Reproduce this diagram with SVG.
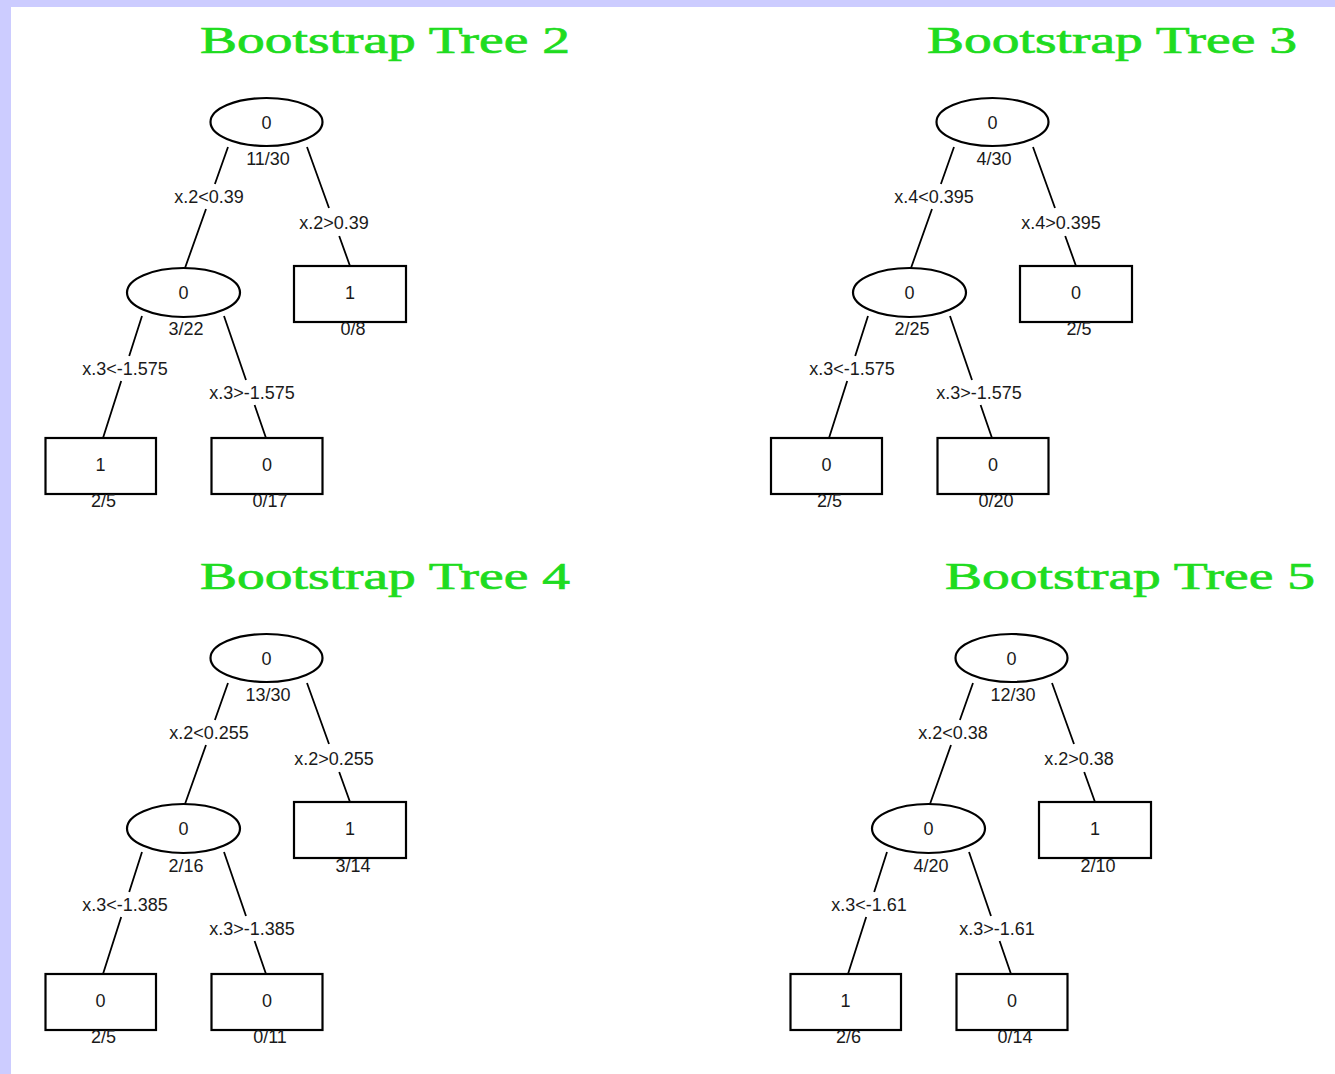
<svg xmlns="http://www.w3.org/2000/svg" width="1335" height="1074" viewBox="0 0 1335 1074">
<style>
.title{font-family:"Liberation Serif","DejaVu Serif",serif;font-size:37px;fill:#1fdc1f;stroke:#1fdc1f;stroke-width:0.7;}
.t{font-family:"Liberation Sans",Arial,sans-serif;font-size:18px;fill:#1a1a1a;text-anchor:middle;}
.shape{fill:#fff;stroke:#000;stroke-width:2.2;}
.edge{stroke:#000;stroke-width:1.8;fill:none;}
</style>
<rect x="0" y="0" width="1335" height="1074" fill="#ccccff"/>
<rect x="11" y="7" width="1324" height="1067" fill="#fff"/>
<g id="titles">
<text class="title" x="200" y="53" textLength="370" lengthAdjust="spacingAndGlyphs">Bootstrap Tree 2</text>
<text class="title" x="927" y="53" textLength="370" lengthAdjust="spacingAndGlyphs">Bootstrap Tree 3</text>
<text class="title" x="200" y="589" textLength="370" lengthAdjust="spacingAndGlyphs">Bootstrap Tree 4</text>
<text class="title" x="945" y="589" textLength="370" lengthAdjust="spacingAndGlyphs">Bootstrap Tree 5</text>
</g>
<defs>
<g id="edges">
<path class="edge" d="M228,147 L214.9,184 M206,209 L185,268"/>
<path class="edge" d="M307,147 L329,208 M339.2,236 L350,266"/>
<path class="edge" d="M142,316 L129.2,356 M121.2,381 L103,438"/>
<path class="edge" d="M224,316 L246,380 M254.6,405 L266,438"/>
</g>
</defs>
<g id="connectors">
<g id="edges-tree2"><use href="#edges"/>
<text class="t" x="209" y="203">x.2&lt;0.39</text><text class="t" x="334" y="229">x.2&gt;0.39</text>
<text class="t" x="125" y="375">x.3&lt;-1.575</text><text class="t" x="252" y="399">x.3&gt;-1.575</text></g>
<g id="edges-tree3" transform="translate(726,0)"><use href="#edges"/>
<text class="t" x="208" y="203">x.4&lt;0.395</text><text class="t" x="335" y="229">x.4&gt;0.395</text>
<text class="t" x="126" y="375">x.3&lt;-1.575</text><text class="t" x="253" y="399">x.3&gt;-1.575</text></g>
<g id="edges-tree4" transform="translate(0,536)"><use href="#edges"/>
<text class="t" x="209" y="203">x.2&lt;0.255</text><text class="t" x="334" y="229">x.2&gt;0.255</text>
<text class="t" x="125" y="375">x.3&lt;-1.385</text><text class="t" x="252" y="399">x.3&gt;-1.385</text></g>
<g id="edges-tree5" transform="translate(745,536)"><use href="#edges"/>
<text class="t" x="208" y="203">x.2&lt;0.38</text><text class="t" x="334" y="229">x.2&gt;0.38</text>
<text class="t" x="124" y="375">x.3&lt;-1.61</text><text class="t" x="252" y="399">x.3&gt;-1.61</text></g>
</g>
<g id="tree2">
<g id="t2-root"><ellipse class="shape" cx="266.5" cy="122" rx="56" ry="24"/><text class="t" x="266.5" y="128.5">0</text><text class="t" x="268" y="165">11/30</text></g>
<g id="t2-n2"><ellipse class="shape" cx="183.5" cy="292.5" rx="56.5" ry="24.5"/><text class="t" x="183.5" y="299">0</text><text class="t" x="186" y="335">3/22</text></g>
<g id="t2-n3"><rect class="shape" x="294" y="266" width="112" height="56"/><text class="t" x="350" y="299">1</text><text class="t" x="353" y="335">0/8</text></g>
<g id="t2-n4"><rect class="shape" x="45.5" y="438" width="110.5" height="56"/><text class="t" x="100.5" y="471">1</text><text class="t" x="103.5" y="507">2/5</text></g>
<g id="t2-n5"><rect class="shape" x="211.5" y="438" width="111" height="56"/><text class="t" x="267" y="471">0</text><text class="t" x="270" y="507">0/17</text></g>
</g>
<g id="tree3" transform="translate(726,0)">
<g id="t3-root"><ellipse class="shape" cx="266.5" cy="122" rx="56" ry="24"/><text class="t" x="266.5" y="128.5">0</text><text class="t" x="268" y="165">4/30</text></g>
<g id="t3-n2"><ellipse class="shape" cx="183.5" cy="292.5" rx="56.5" ry="24.5"/><text class="t" x="183.5" y="299">0</text><text class="t" x="186" y="335">2/25</text></g>
<g id="t3-n3"><rect class="shape" x="294" y="266" width="112" height="56"/><text class="t" x="350" y="299">0</text><text class="t" x="353" y="335">2/5</text></g>
<g id="t3-n4"><rect class="shape" x="45" y="438" width="111" height="56"/><text class="t" x="100.5" y="471">0</text><text class="t" x="103.5" y="507">2/5</text></g>
<g id="t3-n5"><rect class="shape" x="211.5" y="438" width="111" height="56"/><text class="t" x="267" y="471">0</text><text class="t" x="270" y="507">0/20</text></g>
</g>
<g id="tree4" transform="translate(0,536)">
<g id="t4-root"><ellipse class="shape" cx="266.5" cy="122" rx="56" ry="24"/><text class="t" x="266.5" y="128.5">0</text><text class="t" x="268" y="165">13/30</text></g>
<g id="t4-n2"><ellipse class="shape" cx="183.5" cy="292.5" rx="56.5" ry="24.5"/><text class="t" x="183.5" y="299">0</text><text class="t" x="186" y="336">2/16</text></g>
<g id="t4-n3"><rect class="shape" x="294" y="266" width="112" height="56"/><text class="t" x="350" y="299">1</text><text class="t" x="353" y="336">3/14</text></g>
<g id="t4-n4"><rect class="shape" x="45.5" y="438" width="110.5" height="56"/><text class="t" x="100.5" y="471">0</text><text class="t" x="103.5" y="507">2/5</text></g>
<g id="t4-n5"><rect class="shape" x="211.5" y="438" width="111" height="56"/><text class="t" x="267" y="471">0</text><text class="t" x="270" y="507">0/11</text></g>
</g>
<g id="tree5" transform="translate(745,536)">
<g id="t5-root"><ellipse class="shape" cx="266.5" cy="122" rx="56" ry="24"/><text class="t" x="266.5" y="128.5">0</text><text class="t" x="268" y="165">12/30</text></g>
<g id="t5-n2"><ellipse class="shape" cx="183.5" cy="292.5" rx="56.5" ry="24.5"/><text class="t" x="183.5" y="299">0</text><text class="t" x="186" y="336">4/20</text></g>
<g id="t5-n3"><rect class="shape" x="294" y="266" width="112" height="56"/><text class="t" x="350" y="299">1</text><text class="t" x="353" y="336">2/10</text></g>
<g id="t5-n4"><rect class="shape" x="45.5" y="438" width="110.5" height="56"/><text class="t" x="100.5" y="471">1</text><text class="t" x="103.5" y="507">2/6</text></g>
<g id="t5-n5"><rect class="shape" x="211.5" y="438" width="111" height="56"/><text class="t" x="267" y="471">0</text><text class="t" x="270" y="507">0/14</text></g>
</g>
</svg>
